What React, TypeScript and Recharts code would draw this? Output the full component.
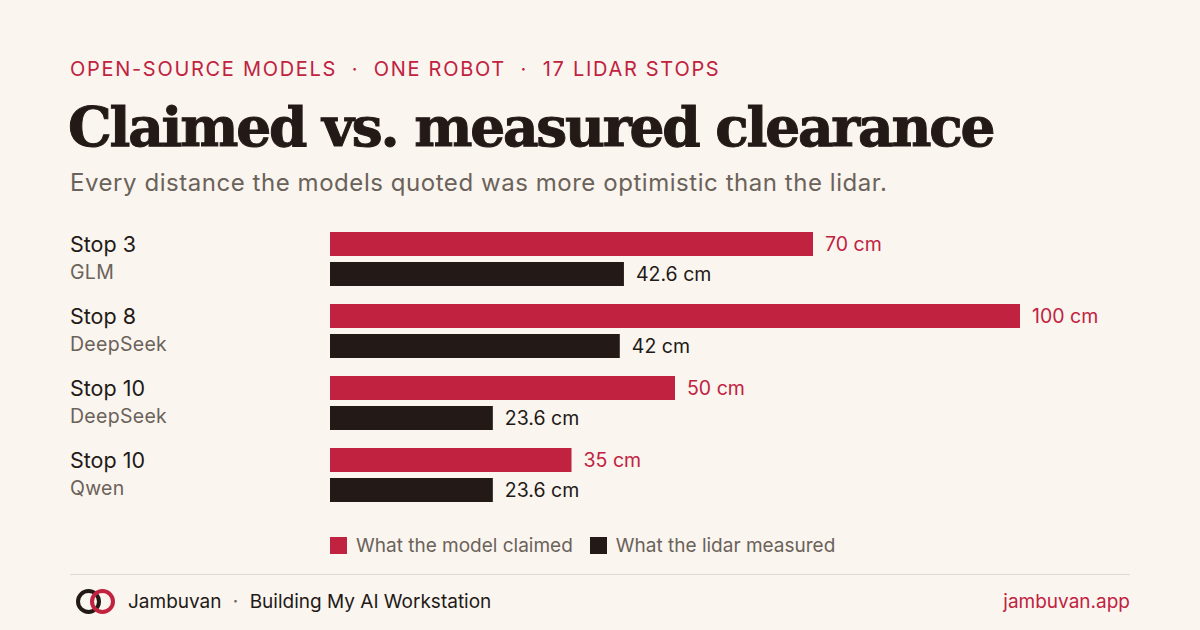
import { BarChart, Bar, XAxis, YAxis, LabelList } from 'recharts'

const stops = ['Stop 3', 'Stop 8', 'Stop 10', 'Stop 10']
const models = ['GLM', 'DeepSeek', 'DeepSeek', 'Qwen']
const claimed = [70, 100, 50, 35]
const measured = [42.6, 42, 23.6, 23.6]

const RED = '#C0223F'
const INK = '#231A17'
const MUTED = '#6B625A'
const BG = '#FAF5EF'
const FONT = 'Inter, "Noto Sans", sans-serif'

const data = stops.map((stop, i) => ({
  key: String(i),
  stop,
  model: models[i],
  claimed: claimed[i],
  measured: measured[i],
}))

function StopTick(props: any) {
  const { y, index } = props
  const row = data[index]
  if (!row) return null
  return (
    <g>
      <text x={10} y={y - 7} fontSize={21.5} fill={INK} fontFamily={FONT}>
        {row.stop}
      </text>
      <text x={10} y={y + 20} fontSize={19.5} fill={MUTED} fontFamily={FONT} letterSpacing={0.3}>
        {row.model}
      </text>
    </g>
  )
}

export default function App() {
  return (
    <div
      style={{
        position: 'absolute',
        left: 0,
        top: 0,
        width: 1200,
        height: 630,
        background: BG,
        fontFamily: FONT,
        overflow: 'hidden',
      }}
    >
      <div
        style={{
          position: 'absolute',
          left: 70,
          top: 57,
          fontSize: 20,
          letterSpacing: 1.7,
          color: RED,
          whiteSpace: 'nowrap',
        }}
      >
        OPEN-SOURCE MODELS &nbsp;·&nbsp; ONE ROBOT &nbsp;·&nbsp; 17 LIDAR STOPS
      </div>
      <div
        style={{
          position: 'absolute',
          left: 68,
          top: 94,
          fontFamily: '"DejaVu Serif", serif',
          fontWeight: 700,
          fontSize: 55,
          letterSpacing: -2.25,
          color: INK,
          WebkitTextStroke: `1px ${INK}`,
          whiteSpace: 'nowrap',
        }}
      >
        Claimed vs. measured clearance
      </div>
      <div
        style={{
          position: 'absolute',
          left: 70,
          top: 168,
          fontSize: 24,
          letterSpacing: 0.55,
          color: MUTED,
          whiteSpace: 'nowrap',
        }}
      >
        Every distance the models quoted was more optimistic than the lidar.
      </div>

      <div style={{ position: 'absolute', left: 60, top: 223 }}>
        <BarChart
          width={1100}
          height={288}
          data={data}
          layout="vertical"
          barSize={24}
          barGap={6}
          margin={{ top: 0, right: 140, bottom: 0, left: 0 }}
        >
          <XAxis type="number" domain={[0, 100]} hide />
          <YAxis
            type="category"
            dataKey="key"
            width={270}
            axisLine={false}
            tickLine={false}
            tick={<StopTick />}
            interval={0}
          />
          <Bar dataKey="claimed" fill={RED} isAnimationActive={false}>
            <LabelList
              dataKey="claimed"
              position="right"
              offset={12}
              formatter={(v: any) => `${v} cm`}
              fill={RED}
              fontSize={19.5}
              fontFamily={FONT}
            />
          </Bar>
          <Bar dataKey="measured" fill={INK} isAnimationActive={false}>
            <LabelList
              dataKey="measured"
              position="right"
              offset={12}
              formatter={(v: any) => `${v} cm`}
              fill={INK}
              fontSize={19.5}
              fontFamily={FONT}
            />
          </Bar>
        </BarChart>
      </div>

      <div
        style={{
          position: 'absolute',
          left: 330,
          top: 534,
          display: 'flex',
          alignItems: 'center',
          fontSize: 19,
          color: MUTED,
          whiteSpace: 'nowrap',
        }}
      >
        <span style={{ width: 17, height: 17, background: RED, marginRight: 9 }} />
        <span style={{ marginRight: 17 }}>What the model claimed</span>
        <span style={{ width: 17, height: 17, background: INK, marginRight: 9 }} />
        <span>What the lidar measured</span>
      </div>

      <div
        style={{
          position: 'absolute',
          left: 70,
          top: 574,
          width: 1060,
          height: 1,
          background: '#E2DAD0',
        }}
      />

      <svg style={{ position: 'absolute', left: 74, top: 586 }} width={46} height={32}>
        <circle cx={14.5} cy={15.5} r={10.5} fill="none" stroke={INK} strokeWidth={4} />
        <circle cx={28.5} cy={15.5} r={10.5} fill="none" stroke={RED} strokeWidth={4} />
      </svg>
      <div
        style={{
          position: 'absolute',
          left: 128,
          top: 590,
          fontSize: 19,
          color: INK,
          whiteSpace: 'nowrap',
        }}
      >
        Jambuvan <span style={{ color: MUTED, margin: '0 6px' }}>·</span> Building My AI Workstation
      </div>
      <div
        style={{
          position: 'absolute',
          right: 70,
          top: 590,
          fontSize: 19,
          color: RED,
          whiteSpace: 'nowrap',
        }}
      >
        jambuvan.app
      </div>
    </div>
  )
}
